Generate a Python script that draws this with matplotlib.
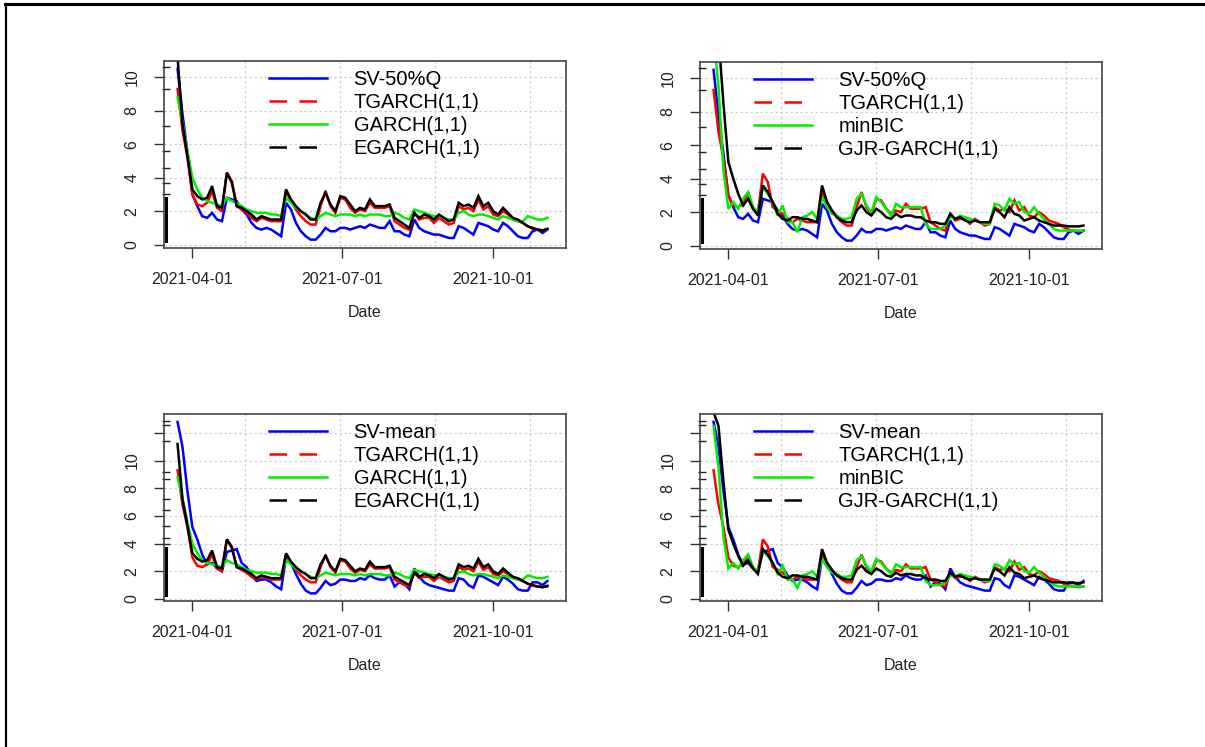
import numpy as np
import pandas as pd
import matplotlib
matplotlib.use('Agg')
import matplotlib.pyplot as plt
import matplotlib.dates as mdates
from matplotlib.lines import Line2D

plt.rcParams['font.family'] = ['Liberation Sans', 'DejaVu Sans']

# forecast dates, one value every 3 days
dates = pd.date_range('2021-03-23', periods=76, freq='3D')

sv_50q = [10.5, 7.8, 5.5, 3.0, 2.3, 1.7, 1.6, 1.9, 1.5, 1.4,
          2.8, 2.7, 2.6, 2.1, 1.8, 1.3, 1.0, 0.9, 1.0, 0.9,
          0.7, 0.5, 2.5, 2.1, 1.3, 0.8, 0.5, 0.3, 0.3, 0.6,
          1.0, 0.8, 0.8, 1.0, 1.0, 0.9, 1.0, 1.1, 1.0, 1.2,
          1.1, 1.0, 1.0, 1.4, 0.8, 0.8, 0.6, 0.5, 1.5, 1.0,
          0.8, 0.7, 0.6, 0.6, 0.5, 0.4, 0.4, 1.1, 1.0, 0.8,
          0.6, 1.3, 1.2, 1.1, 0.9, 0.8, 1.3, 1.1, 0.8, 0.5,
          0.4, 0.4, 0.8, 0.9, 0.7, 0.9]

sv_mean = [12.8, 11.0, 7.8, 5.2, 4.3, 3.2, 2.5, 2.6, 2.2, 2.0,
           3.4, 3.5, 3.6, 2.6, 2.3, 1.7, 1.3, 1.4, 1.4, 1.2,
           0.9, 0.7, 3.0, 2.6, 1.8, 1.1, 0.6, 0.4, 0.4, 0.8,
           1.3, 1.0, 1.1, 1.4, 1.4, 1.3, 1.3, 1.5, 1.4, 1.7,
           1.5, 1.4, 1.4, 1.7, 0.9, 1.2, 1.1, 0.7, 2.2, 1.6,
           1.2, 1.0, 0.9, 0.8, 0.7, 0.6, 0.6, 1.5, 1.4, 1.0,
           0.8, 1.7, 1.6, 1.4, 1.2, 1.0, 1.6, 1.4, 1.1, 0.7,
           0.6, 0.6, 1.2, 1.2, 1.0, 1.3]

tgarch = [9.3, 6.8, 5.2, 3.0, 2.4, 2.3, 2.5, 3.2, 2.2, 2.0,
          4.3, 3.8, 2.3, 2.1, 1.9, 1.6, 1.4, 1.6, 1.5, 1.4,
          1.4, 1.4, 3.2, 2.6, 2.1, 1.7, 1.4, 1.2, 1.2, 2.3,
          3.2, 2.3, 1.9, 2.8, 2.7, 2.2, 1.9, 2.1, 2.0, 2.5,
          2.2, 2.2, 2.2, 2.3, 1.4, 1.2, 1.0, 0.9, 1.9, 1.5,
          1.6, 1.6, 1.3, 1.6, 1.4, 1.2, 1.3, 2.3, 2.1, 2.2,
          2.0, 2.7, 2.1, 2.3, 1.8, 1.7, 2.0, 1.8, 1.5, 1.4,
          1.3, 1.1, 0.95, 0.9, 0.85, 0.9]

garch = [8.8, 7.3, 5.6, 4.0, 3.3, 2.8, 2.6, 2.5, 2.4, 2.3,
         2.8, 2.6, 2.5, 2.3, 2.1, 2.0, 1.9, 1.9, 1.9, 1.8,
         1.8, 1.7, 2.8, 2.5, 2.2, 2.0, 1.8, 1.6, 1.5, 1.7,
         1.9, 1.8, 1.7, 1.8, 1.8, 1.8, 1.7, 1.8, 1.7, 1.8,
         1.8, 1.8, 1.7, 1.7, 1.9, 1.8, 1.6, 1.5, 2.1, 2.0,
         1.9, 1.8, 1.7, 1.7, 1.6, 1.5, 1.5, 1.9, 2.0, 1.8,
         1.7, 1.8, 1.8, 1.7, 1.6, 1.5, 1.7, 1.6, 1.5, 1.4,
         1.4, 1.7, 1.6, 1.5, 1.5, 1.6]

egarch = [11.2, 7.2, 5.3, 3.3, 2.9, 2.7, 2.8, 3.5, 2.3, 2.2,
          4.3, 3.7, 2.3, 2.2, 2.0, 1.8, 1.5, 1.7, 1.6, 1.5,
          1.5, 1.5, 3.3, 2.7, 2.3, 2.0, 1.8, 1.5, 1.5, 2.5,
          3.1, 2.4, 2.0, 2.9, 2.8, 2.4, 2.0, 2.2, 2.1, 2.7,
          2.3, 2.3, 2.3, 2.4, 1.6, 1.4, 1.2, 1.0, 1.9, 1.6,
          1.8, 1.7, 1.5, 1.8, 1.6, 1.4, 1.5, 2.5, 2.3, 2.4,
          2.2, 2.9, 2.3, 2.5, 2.0, 1.8, 2.2, 1.9, 1.6, 1.5,
          1.3, 1.1, 1.0, 0.9, 0.85, 0.95]

minbic = [12.5, 9.5, 4.5, 2.2, 2.6, 2.2, 2.8, 3.2, 2.3, 2.0,
          3.5, 3.1, 2.6, 1.8, 2.4, 1.4, 1.4, 0.8, 1.7, 1.8,
          2.0, 1.6, 2.9, 2.3, 1.9, 1.8, 1.6, 1.6, 1.7, 2.8,
          3.1, 2.4, 2.0, 2.9, 2.6, 2.2, 1.8, 2.5, 2.3, 2.3,
          2.3, 2.3, 2.3, 1.3, 1.0, 1.0, 1.0, 1.2, 1.7, 1.6,
          1.8, 1.7, 1.6, 1.5, 1.4, 1.3, 1.3, 2.5, 2.4, 2.1,
          2.8, 2.5, 2.6, 2.0, 1.9, 2.3, 1.9, 1.6, 1.3, 1.0,
          0.9, 0.9, 0.9, 0.9, 0.9, 0.9]

gjr_garch = [13.5, 12.5, 8.5, 5.0, 4.0, 3.1, 2.4, 2.8, 2.2, 1.8,
             3.6, 3.2, 2.6, 1.9, 1.6, 1.5, 1.7, 1.7, 1.6, 1.6,
             1.5, 1.4, 3.6, 2.6, 2.1, 1.7, 1.5, 1.4, 1.4, 2.1,
             2.4, 2.0, 1.8, 2.2, 2.0, 1.7, 1.6, 1.9, 1.7, 1.8,
             1.8, 1.7, 1.7, 1.5, 1.4, 1.4, 1.3, 1.3, 1.9, 1.6,
             1.7, 1.5, 1.4, 1.5, 1.4, 1.4, 1.4, 2.2, 2.0, 1.7,
             2.3, 1.9, 1.8, 1.5, 1.6, 1.7, 1.5, 1.4, 1.3, 1.2,
             1.2, 1.2, 1.15, 1.15, 1.15, 1.2]

# ticks left on the y axis (rug) and the dense stretch near zero
rug_top = [10.6, 9.3, 7.1, 5.6, 4.6, 3.7, 3.0]
rug_top_band = (0.2, 2.8)
rug_bottom = [12.9, 12.6, 11.4, 9.2, 8.7, 7.2, 6.4, 5.3, 4.4, 4.0]
rug_bottom_band = (0.3, 3.7)

date_ticks = pd.to_datetime(['2021-04-01', '2021-07-01', '2021-10-01'])
xlim = (pd.Timestamp('2021-03-14 18:00'), pd.Timestamp('2021-11-14 07:00'))
# vertical grid lines sit on the default axis ticks (every 5e6 seconds)
grid_x = pd.to_datetime([1.620e9, 1.625e9, 1.630e9, 1.635e9], unit='s')

colors = ['blue', 'red', '#00ee00', 'black']
styles = ['-', (0, (7, 5)), '-', (0, (7, 5))]

W, H = 1205, 747
panels = [
    dict(rect=[164, 61, 566, 248], series=[sv_50q, tgarch, garch, egarch],
         labels=['SV-50%Q', 'TGARCH(1,1)', 'GARCH(1,1)', 'EGARCH(1,1)'],
         ylim=(-0.2, 10.97), yticks=[0, 2, 4, 6, 8, 10], leg_x=0.261,
         rug=rug_top, band=rug_top_band),
    dict(rect=[700, 62, 1102, 249], series=[sv_50q, tgarch, minbic, gjr_garch],
         labels=['SV-50%Q', 'TGARCH(1,1)', 'minBIC', 'GJR-GARCH(1,1)'],
         ylim=(-0.2, 10.97), yticks=[0, 2, 4, 6, 8, 10], leg_x=0.134,
         rug=rug_top, band=rug_top_band),
    dict(rect=[164, 414, 566, 601], series=[sv_mean, tgarch, garch, egarch],
         labels=['SV-mean', 'TGARCH(1,1)', 'GARCH(1,1)', 'EGARCH(1,1)'],
         ylim=(-0.15, 13.37), yticks=[0, 2, 4, 6, 8, 10, 12], leg_x=0.261,
         rug=rug_bottom, band=rug_bottom_band),
    dict(rect=[700, 414, 1102, 601], series=[sv_mean, tgarch, minbic, gjr_garch],
         labels=['SV-mean', 'TGARCH(1,1)', 'minBIC', 'GJR-GARCH(1,1)'],
         ylim=(-0.15, 13.37), yticks=[0, 2, 4, 6, 8, 10, 12], leg_x=0.134,
         rug=rug_bottom, band=rug_bottom_band),
]

fig = plt.figure(figsize=(W / 100, H / 100), dpi=100)

# page frame
fig.add_artist(Line2D([5 / W, 1], [1 - 4 / H, 1 - 4 / H], color='black',
                      lw=2.2, transform=fig.transFigure))
fig.add_artist(Line2D([6 / W, 6 / W], [0, 1 - 4 / H], color='black',
                      lw=1.6, transform=fig.transFigure))

for p in panels:
    x0, y0, x1, y1 = p['rect']
    ax = fig.add_axes([x0 / W, 1 - y1 / H, (x1 - x0) / W, (y1 - y0) / H])

    for yv in p['yticks']:
        ax.axhline(yv, color='#cfcfcf', lw=0.9, ls=(0, (2, 2)), zorder=0)
    for xv in grid_x:
        ax.axvline(xv, color='#cfcfcf', lw=0.9, ls=(0, (2, 2)), zorder=0)

    for vals, c in zip(p['series'], colors):
        ax.plot(dates, vals, color=c, lw=1.8, solid_joinstyle='miter')

    # rug on the y axis
    tr = ax.get_yaxis_transform()
    ax.plot([0.006] * len(p['rug']), p['rug'], ls='none', marker='_',
            ms=6, mew=1.0, color='#222222', transform=tr, clip_on=False)
    ax.plot([0.006, 0.006], p['band'], color='black', lw=2.2,
            transform=tr, clip_on=False)

    ax.set_xlim(*xlim)
    ax.set_ylim(*p['ylim'])
    ax.set_xticks(date_ticks)
    ax.xaxis.set_major_formatter(mdates.DateFormatter('%Y-%m-%d'))
    ax.set_yticks(p['yticks'])
    ax.set_yticklabels([str(v) if v <= 10 else '' for v in p['yticks']],
                       rotation=90, va='center')
    ax.tick_params(axis='both', length=7, width=1.0, color='#333333',
                   labelsize=11.5, labelcolor='#222222', pad=10.5)
    for s in ax.spines.values():
        s.set_color('#444444')
        s.set_linewidth(1.2)
    ax.set_xlabel('Date', fontsize=11.5, color='#222222', labelpad=13)

    handles = [Line2D([], [], color=c, lw=1.8, ls=ls)
               for c, ls in zip(colors, styles)]
    ax.legend(handles, p['labels'], loc='upper left',
              bbox_to_anchor=(p['leg_x'], 0.95), frameon=False,
              fontsize=14.5, handlelength=2.9, handletextpad=1.3,
              labelspacing=0.2, borderpad=0, borderaxespad=0)

fig.savefig('out.png', dpi=100)
